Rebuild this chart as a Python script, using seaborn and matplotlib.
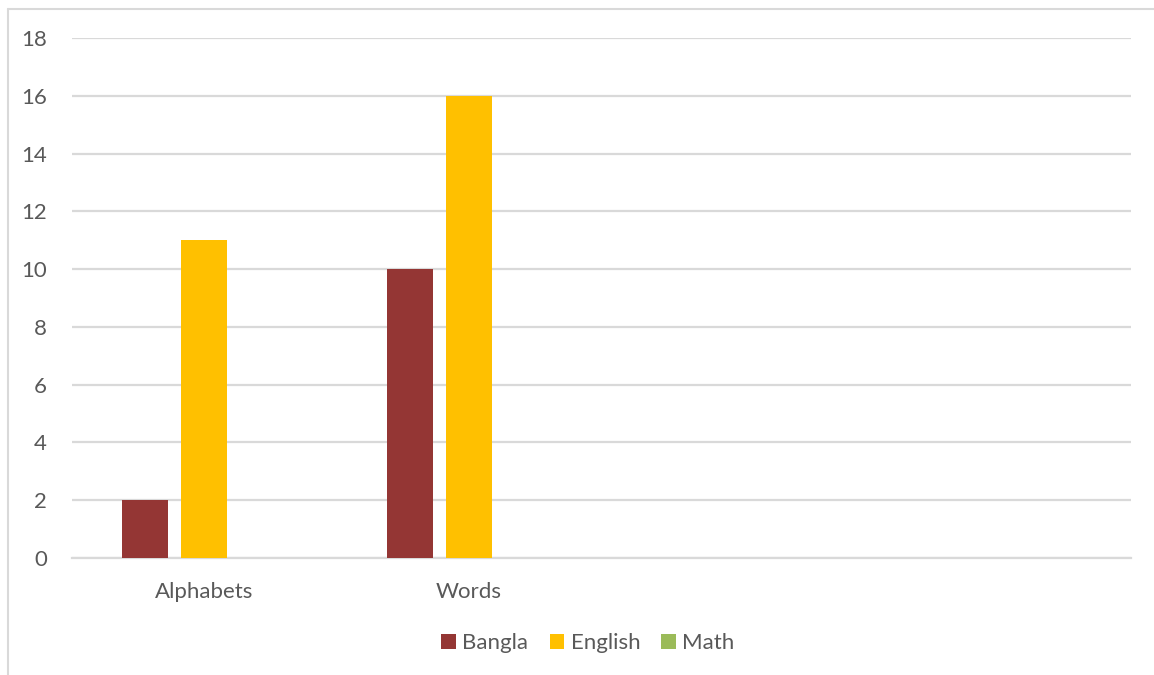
import matplotlib
matplotlib.use("Agg")
import matplotlib.pyplot as plt
from matplotlib.lines import Line2D
from matplotlib.patches import Patch
import seaborn as sns
import pandas as pd

# Scores per subject for each learning area
categories = ["Alphabets", "Words"]
subjects = ["Bangla", "English", "Math"]
bangla = [2, 10]
english = [11, 16]
math = [0, 0]

colors = ["#943634", "#FFC000", "#9BBB59"]
grid_color = "#D9D9D9"
text_color = "#595959"

rows = []
for subj, vals in zip(subjects, [bangla, english, math]):
    for cat, v in zip(categories, vals):
        rows.append({"Category": cat, "Subject": subj, "Value": v})
df = pd.DataFrame(rows)

sns.set_theme(style="white")
plt.rcParams["font.family"] = ["Lato", "DejaVu Sans"]

W, H = 1154, 675
fig = plt.figure(figsize=(W / 100, H / 100), dpi=100)
ax = fig.add_axes([72 / W, (H - 558) / H, (1131 - 72) / W, (558 - 38) / H])

sns.barplot(data=df, x="Category", y="Value", hue="Subject",
            order=categories, hue_order=subjects, palette=colors,
            saturation=1, width=0.668, gap=0.22, linewidth=0,
            errorbar=None, legend=False, ax=ax, zorder=3)

ax.set_xlim(-0.5, 3.5)
ax.set_ylim(0, 18)
ax.set_yticks(range(0, 19, 2))
ax.yaxis.grid(True, color=grid_color, linewidth=1.6, zorder=0)
ax.set_axisbelow(True)
for side in ["top", "right", "left"]:
    ax.spines[side].set_visible(False)
ax.spines["bottom"].set_color(grid_color)
ax.spines["bottom"].set_linewidth(1.6)
ax.set_xlabel("")
ax.set_ylabel("")
ax.tick_params(axis="y", length=0, pad=18, labelsize=16, labelcolor=text_color)
ax.tick_params(axis="x", length=0, pad=17, labelsize=16, labelcolor=text_color)

handles = [Patch(facecolor=c, edgecolor="none", label=s) for s, c in zip(subjects, colors)]
fig.legend(handles=handles, loc="center", bbox_to_anchor=(588 / W, (H - 643) / H),
           ncol=3, frameon=False, fontsize=16, labelcolor=text_color,
           handlelength=0.65, handleheight=0.65, handletextpad=0.3,
           columnspacing=0.95)

# Outer chart frame (top and left edges)
fig.add_artist(Line2D([8 / W, 1.0], [(H - 9) / H] * 2, color=grid_color, linewidth=1.5))
fig.add_artist(Line2D([8 / W] * 2, [0.0, (H - 9) / H], color=grid_color, linewidth=1.5))

fig.savefig("out.png", dpi=100, facecolor="white")
